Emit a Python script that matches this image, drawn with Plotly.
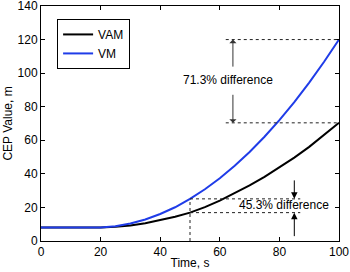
import plotly.graph_objects as go

# ---- data ----
time_s = [0, 5, 10, 15, 20, 25, 30, 35, 40, 45, 50, 55, 60, 65, 70, 75, 80, 85, 90, 95, 100]
vam = [8.0, 8.0, 8.0, 8.0, 8.0, 8.5, 9.3, 10.6, 12.3, 14.4, 16.9, 20.2, 24.1, 28.4, 33.1, 38.2, 43.7, 49.7, 56.1, 63.0, 70.4]
vm = [8.0, 8.0, 8.0, 8.0, 8.1, 8.8, 10.4, 12.8, 16.1, 20.1, 25.1, 30.8, 37.4, 44.8, 53.0, 62.1, 72.0, 82.8, 94.4, 106.8, 120.0]
x_ticks = [0, 20, 40, 60, 80, 100]
y_ticks = [0, 20, 40, 60, 80, 100, 120, 140]
series_names = ["VAM", "VM"]
upper_label = "71.3% difference"
lower_label = "45.3% difference"
x_title = "Time, s"
y_title = "CEP Value, m"

FONT = "Liberation Sans, Arial, sans-serif"
BLUE = "#1f3ce8"

fig = go.Figure()
fig.add_trace(go.Scatter(x=time_s, y=vam, mode="lines", name=series_names[0],
                         line=dict(color="black", width=2)))
fig.add_trace(go.Scatter(x=time_s, y=vm, mode="lines", name=series_names[1],
                         line=dict(color=BLUE, width=2)))

i_end = len(time_s) - 1
i50 = time_s.index(50)
t_end = time_s[i_end]
t_mid = time_s[i50]

dot = dict(color="#222", width=1, dash="dot")
shapes = [
    dict(type="line", xref="x", yref="y", x0=62, x1=t_end, y0=vm[i_end], y1=vm[i_end], line=dot),
    dict(type="line", xref="x", yref="y", x0=62, x1=t_end, y0=vam[i_end], y1=vam[i_end], line=dot),
    dict(type="line", xref="x", yref="y", x0=t_mid, x1=87, y0=vm[i50], y1=vm[i50], line=dot),
    dict(type="line", xref="x", yref="y", x0=t_mid, x1=87, y0=vam[i50], y1=vam[i50], line=dot),
    dict(type="line", xref="x", yref="y", x0=t_mid, x1=t_mid, y0=0, y1=vm[i50], line=dot),
]

def arrow(x, y, ay, head=2, size=1.0, color="black"):
    return dict(x=x, y=y, ax=x, ay=ay, xref="x", yref="y", axref="x", ayref="y",
                text="", showarrow=True, arrowhead=head, arrowsize=size,
                arrowwidth=1, arrowcolor=color, standoff=0, startstandoff=0)

annotations = [
    arrow(64.4, vm[i_end], 103, head=1, size=1.2, color="#333"),
    arrow(64.4, vam[i_end], 88, head=1, size=1.2, color="#333"),
    arrow(85, vm[i50], 37, head=2, size=1.3),
    arrow(85, vam[i50], 2, head=2, size=1.3),
    dict(x=62.8, y=95.8, xref="x", yref="y", text=upper_label, showarrow=False,
         font=dict(family=FONT, size=12, color="black")),
    dict(x=81.7, y=21.4, xref="x", yref="y", text=lower_label, showarrow=False,
         font=dict(family=FONT, size=12, color="black")),
]

axis_common = dict(showline=True, linecolor="black", linewidth=1, mirror="ticks",
                   ticks="inside", ticklen=4, tickcolor="black", showgrid=False,
                   zeroline=False, automargin=False, ticklabeloverflow="allow",
                   tickfont=dict(family=FONT, size=12, color="black"))

fig.update_layout(
    width=350, height=272,
    margin=dict(l=41, r=11, t=6, b=31),
    paper_bgcolor="white", plot_bgcolor="white",
    font=dict(family=FONT, size=12, color="black"),
    xaxis=dict(range=[0, 100], tickvals=x_ticks,
               title=dict(text=x_title, standoff=0, font=dict(family=FONT, size=12)),
               **axis_common),
    yaxis=dict(range=[0, 140], tickvals=y_ticks,
               title=dict(text=y_title, standoff=2, font=dict(family=FONT, size=12)),
               **axis_common),
    legend=dict(x=0.054, y=0.945, xanchor="left", yanchor="top",
                bgcolor="white", bordercolor="black", borderwidth=1,
                font=dict(family=FONT, size=12, color="black"),
                tracegroupgap=0, itemwidth=30),
    shapes=shapes,
    annotations=annotations,
    showlegend=True,
)

fig.write_html("out.html",
               config={"displayModeBar": False},
               post_script="document.body.style.margin='0';document.body.style.padding='0';")
